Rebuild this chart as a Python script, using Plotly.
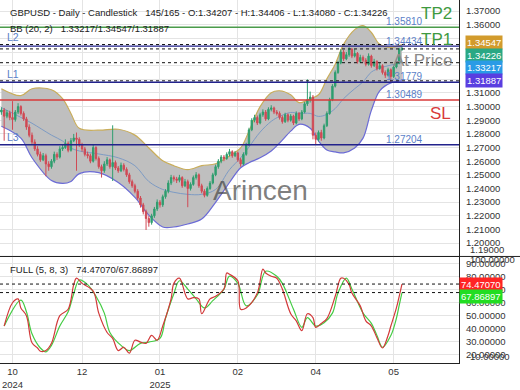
import plotly.graph_objects as go

# ---------------- data ----------------
opens = [1.2960,1.2975,1.2930,1.2955,1.2920,1.2905,1.2960,1.3000,1.2950,1.2910,
         1.2850,1.2790,1.2740,1.2690,1.2650,1.2610,1.2640,1.2580,1.2560,1.2600,
         1.2650,1.2630,1.2690,1.2700,1.2730,1.2680,1.2750,1.2770,1.2760,1.2720,
         1.2690,1.2650,1.2640,1.2600,1.2700,1.2620,1.2560,1.2530,1.2580,1.2610,
         1.2560,1.2590,1.2550,1.2530,1.2570,1.2540,1.2500,1.2450,1.2420,1.2380,
         1.2330,1.2280,1.2230,1.2180,1.2150,1.2200,1.2250,1.2300,1.2280,1.2340,
         1.2380,1.2440,1.2480,1.2470,1.2460,1.2480,1.2420,1.2450,1.2400,1.2430,
         1.2480,1.2500,1.2420,1.2380,1.2350,1.2400,1.2440,1.2500,1.2560,1.2600,
         1.2630,1.2620,1.2650,1.2670,1.2640,1.2660,1.2610,1.2580,1.2650,1.2720,
         1.2830,1.2900,1.2920,1.2880,1.2940,1.2960,1.2910,1.2980,1.2990,1.2960,
         1.2950,1.2920,1.2890,1.2940,1.2900,1.2930,1.2880,1.2950,1.2910,1.2960,
         1.3020,1.3050,1.3070,1.2790,1.2760,1.2810,1.2770,1.2860,1.2950,1.3050,
         1.3150,1.3250,1.3320,1.3400,1.3350,1.3380,1.3420,1.3370,1.3390,1.3330,
         1.3360,1.3340,1.3310,1.3370,1.3300,1.3330,1.3280,1.3300,1.3250,1.3230,
         1.3270,1.3220,1.3290,1.3320,1.34207]
highs = [1.2995,1.2990,1.2975,1.2970,1.3040,1.2975,1.3025,1.3010,1.2965,1.2925,
         1.2870,1.2810,1.2760,1.2710,1.2670,1.2660,1.2655,1.2600,1.2615,1.2670,
         1.2665,1.2710,1.2725,1.2760,1.2745,1.2770,1.2800,1.2810,1.2775,1.2735,
         1.2705,1.2670,1.2655,1.2720,1.2710,1.2635,1.2575,1.2600,1.2630,1.2620,
         1.2863,1.2605,1.2565,1.2590,1.2585,1.2555,1.2515,1.2465,1.2435,1.2395,
         1.2345,1.2295,1.2245,1.2200,1.2215,1.2265,1.2320,1.2315,1.2355,1.2395,
         1.2460,1.2500,1.2495,1.2485,1.2500,1.2490,1.2470,1.2465,1.2445,1.2495,
         1.2520,1.2510,1.2435,1.2395,1.2415,1.2455,1.2515,1.2575,1.2615,1.2645,
         1.2645,1.2665,1.2690,1.2680,1.2675,1.2670,1.2625,1.2665,1.2735,1.2845,
         1.2915,1.2940,1.2935,1.2955,1.2980,1.2975,1.2995,1.3010,1.3000,1.2975,
         1.2965,1.2935,1.2955,1.2950,1.2945,1.2940,1.2965,1.2960,1.2975,1.3035,
         1.3200,1.3110,1.3085,1.2810,1.2825,1.2830,1.2875,1.2965,1.3065,1.3165,
         1.3265,1.3335,1.3420,1.3415,1.3400,1.3435,1.3430,1.3420,1.3400,1.3380,
         1.3375,1.3355,1.3390,1.3380,1.3350,1.3340,1.3320,1.3310,1.3265,1.3285,
         1.3280,1.3300,1.3335,1.3430,1.34406]
lows = [1.2940,1.2750,1.2915,1.2900,1.2830,1.2890,1.2945,1.2935,1.2895,1.2830,
        1.2775,1.2725,1.2675,1.2635,1.2595,1.2600,1.2490,1.2530,1.2545,1.2585,
        1.2610,1.2620,1.2675,1.2690,1.2665,1.2670,1.2740,1.2530,1.2705,1.2670,
        1.2635,1.2620,1.2585,1.2590,1.2605,1.2545,1.2480,1.2515,1.2565,1.2545,
        1.2455,1.2535,1.2515,1.2520,1.2525,1.2485,1.2435,1.2405,1.2365,1.2315,
        1.2260,1.2210,1.2096,1.2120,1.2135,1.2185,1.2235,1.2260,1.2265,1.2325,
        1.2365,1.2425,1.2450,1.2440,1.2445,1.2405,1.2410,1.2263,1.2385,1.2420,
        1.2465,1.2405,1.2365,1.2335,1.2340,1.2390,1.2430,1.2490,1.2545,1.2585,
        1.2600,1.2610,1.2635,1.2625,1.2630,1.2595,1.2560,1.2570,1.2640,1.2710,
        1.2820,1.2885,1.2865,1.2870,1.2925,1.2895,1.2900,1.2965,1.2945,1.2935,
        1.2905,1.2875,1.2880,1.2885,1.2890,1.2865,1.2870,1.2895,1.2900,1.2950,
        1.3005,1.3030,1.2760,1.2720,1.2745,1.2750,1.2760,1.2850,1.2940,1.3040,
        1.3140,1.3240,1.3310,1.3335,1.3340,1.3365,1.3355,1.3360,1.3315,1.3320,
        1.3325,1.3295,1.3300,1.3285,1.3290,1.3265,1.3270,1.3235,1.3210,1.3220,
        1.3178,1.3210,1.3280,1.3310,1.34080]
closes = [1.2975,1.2930,1.2955,1.2920,1.2905,1.2960,1.3000,1.2950,1.2910,1.2850,
          1.2790,1.2740,1.2690,1.2650,1.2610,1.2640,1.2580,1.2560,1.2600,1.2650,
          1.2630,1.2690,1.2700,1.2730,1.2680,1.2750,1.2770,1.2760,1.2720,1.2690,
          1.2650,1.2640,1.2600,1.2700,1.2620,1.2560,1.2530,1.2580,1.2610,1.2560,
          1.2590,1.2550,1.2530,1.2570,1.2540,1.2500,1.2450,1.2420,1.2380,1.2330,
          1.2280,1.2230,1.2180,1.2150,1.2200,1.2250,1.2300,1.2280,1.2340,1.2380,
          1.2440,1.2480,1.2470,1.2460,1.2480,1.2420,1.2450,1.2400,1.2430,1.2480,
          1.2500,1.2420,1.2380,1.2350,1.2400,1.2440,1.2500,1.2560,1.2600,1.2630,
          1.2620,1.2650,1.2670,1.2640,1.2660,1.2610,1.2580,1.2650,1.2720,1.2830,
          1.2900,1.2920,1.2880,1.2940,1.2960,1.2910,1.2980,1.2990,1.2960,1.2950,
          1.2920,1.2890,1.2940,1.2900,1.2930,1.2880,1.2950,1.2910,1.2960,1.3020,
          1.3050,1.3070,1.2790,1.2760,1.2810,1.2770,1.2860,1.2950,1.3050,1.3150,
          1.3250,1.3320,1.3400,1.3350,1.3380,1.3420,1.3370,1.3390,1.3330,1.3360,
          1.3340,1.3310,1.3370,1.3300,1.3330,1.3280,1.3300,1.3250,1.3230,1.3270,
          1.3220,1.3290,1.3320,1.3420,1.34226]

bb_bars = [0, 7, 11, 18, 22, 25, 28, 35, 42, 48, 53, 58, 62, 67, 72, 77, 82, 86, 89, 93,
           97, 100, 104, 107, 111, 114, 117, 120, 123, 127, 130, 133, 136, 140, 144]
bb_upper = [1.3131, 1.3080, 1.3131, 1.3123, 1.3058, 1.2950, 1.2841, 1.2827, 1.2834, 1.2791,
            1.2697, 1.2603, 1.2567, 1.2538, 1.2567, 1.2581, 1.2639, 1.2697, 1.2820, 1.3000,
            1.3102, 1.3116, 1.3087, 1.3029, 1.3058, 1.3087, 1.3203, 1.3311, 1.3456, 1.3564,
            1.3593, 1.3543, 1.3456, 1.3434, 1.34547]
bb_lower = [1.2856, 1.2769, 1.2625, 1.2458, 1.2437, 1.2451, 1.2509, 1.2516, 1.2444, 1.2335,
            1.2205, 1.2118, 1.2118, 1.2140, 1.2176, 1.2299, 1.2444, 1.2552, 1.2589, 1.2625,
            1.2675, 1.2733, 1.2820, 1.2870, 1.2841, 1.2748, 1.2682, 1.2668, 1.2661, 1.2697,
            1.2769, 1.2972, 1.3116, 1.3174, 1.31887]
bb_mid = [1.2993, 1.2921, 1.2878, 1.2791, 1.2748, 1.2697, 1.2675, 1.2653, 1.2625, 1.2567,
          1.2451, 1.2393, 1.2372, 1.2357, 1.2357, 1.2393, 1.2538, 1.2625, 1.2704, 1.2813,
          1.2892, 1.2928, 1.2957, 1.2950, 1.2950, 1.2928, 1.2943, 1.2986, 1.3058, 1.3131,
          1.3181, 1.3253, 1.3282, 1.3304, 1.33217]

stoch_bars_k = [1,4,6,7,9,11,13,14,16,18,21,24,26,27,29,33,35,38,40,42,
                44,46,48,50,52,54,56,58,61,62,64,67,69,71,72,75,77,80,81,82,
                85,86,88,92,94,95,97,99,101,104,106,108,110,112,113,115,117,120,122,123,
                125,126,129,131,133,135,137,139,140,142,143,144]
stoch_k = [42,60,63,56,50,29,25,22.5,23,28.6,50,55,74,79,75,69,52,37,32.4,23,
           25.6,21,31,29.6,28.6,34.7,31,42,63,75,79,63,64,63,51.5,63,65,70.6,83,82,
           77,55,56,67.5,86,83,80.5,79,70.6,51.5,46,38.5,51.5,48.5,41,44,47.7,65,79,79,
           74,67.5,57.6,46,42,33,25,34.7,42,56,65,74.4707]
stoch_bars_d = [1,7,9,11,14,16,18,21,24,26,28,31,34,37,39,43,46,50,53,57,
                59,62,64,67,70,73,76,80,82,85,88,92,95,99,101,105,108,110,113,116,
                119,121,124,126,130,133,135,137,140,142,143,144]
stoch_d = [42,62,53,36,25,22,27,42,53,67,77.6,74,65,52,37,27,23,28.6,29.6,32.4,
           48,67,77,70.6,63,56,61.6,70.6,80.6,75,57.6,66,84.4,80.5,75,55,41,48.5,42,44.6,
           52,67.5,79,70.6,52,44,34.7,25.6,34.7,48,58,67.86897]

x_tick_bars = [4, 29, 57, 85, 113, 141]
x_tick_text = ["10<br>2024", "12", "01<br>2025", "02", "04", "05"]
main_ticks = [1.19, 1.20, 1.21, 1.22, 1.23, 1.24, 1.25, 1.26, 1.27, 1.28, 1.29, 1.30,
              1.31, 1.32, 1.33, 1.34, 1.35, 1.36, 1.37]
stoch_ticks = [20, 30, 40, 50, 60, 70, 80, 90]
edge_labels = ["1.19000", "100.00000", "10.00000"]

level_values = [1.35810, 1.34434, 1.31779, 1.30489, 1.27204]
level_colors = ["#4b9b4b", "#22228c", "#22228c", "#d83a3a", "#22228c"]
dash_values = [1.34547, 1.34226, 1.33217, 1.31887]
tag_values = [1.34547, 1.34226, 1.33217, 1.31887]
tag_colors = ["#d29b2c", "#29a884", "#2a9be6", "#5a3ee0"]
stoch_last = [74.47070, 67.86897]
stoch_tag_colors = ["#ff2424", "#22dd22"]

n_slots = 165
bars = list(range(len(closes)))
main_range = [1.1902, 1.3781]

FONT = "Liberation Sans, Arial, sans-serif"
PW, PH = 459.0, 368.0          # plot area in px
split = 108.0 / PH

def px(x):
    return x / PW

def py(y):
    return 1 - y / PH

fig = go.Figure()
fig.add_trace(go.Scatter(x=bb_bars, y=bb_lower, mode="lines", hoverinfo="skip",
                         line=dict(color="#6b6bd6", width=1.2, shape="spline")))
fig.add_trace(go.Scatter(x=bb_bars, y=bb_upper, mode="lines", hoverinfo="skip",
                         fill="tonexty", fillcolor="#bfbfbf",
                         line=dict(color="#c9ad5a", width=1.2, shape="spline")))
fig.add_trace(go.Scatter(x=bb_bars, y=bb_mid, mode="lines", hoverinfo="skip",
                         line=dict(color="#7d9bc4", width=1, shape="spline")))
fig.add_trace(go.Candlestick(x=bars, open=opens, high=highs, low=lows, close=closes,
                             xaxis="x", yaxis="y3", whiskerwidth=0,
                             increasing=dict(line=dict(color="#2f9e6f", width=1), fillcolor="#2f9e6f"),
                             decreasing=dict(line=dict(color="#d04a55", width=1), fillcolor="#d04a55")))
fig.add_trace(go.Scatter(x=stoch_bars_d, y=stoch_d, mode="lines", xaxis="x2", yaxis="y2",
                         line=dict(color="#44cc44", width=1.2, shape="spline")))
fig.add_trace(go.Scatter(x=stoch_bars_k, y=stoch_k, mode="lines", xaxis="x2", yaxis="y2",
                         line=dict(color="#d23a3a", width=1.2, shape="spline")))

shapes = []
for v in dash_values:
    shapes.append(dict(type="line", xref="paper", yref="y", x0=0, x1=1, y0=v, y1=v,
                       line=dict(color="#111", width=1, dash="dot")))
for v in stoch_last:
    shapes.append(dict(type="line", xref="paper", yref="y2", x0=0, x1=1, y0=v, y1=v,
                       line=dict(color="#111", width=1, dash="dot")))
for v, c in zip(level_values, level_colors):
    shapes.append(dict(type="line", xref="paper", yref="y", x0=0, x1=1, y0=v, y1=v,
                       line=dict(color=c, width=1.4)))
shapes.append(dict(type="line", xref="paper", yref="paper", x0=0, x1=1.14, y0=split, y1=split,
                   line=dict(color="#222", width=1)))

ann = []
def text(t, x, y, size, color, xanchor="left", yref="paper", yshift=0, **kw):
    ann.append(dict(text=t, x=x, y=y, xref="paper", yref=yref, xanchor=xanchor,
                    yanchor="middle", yshift=yshift, showarrow=False,
                    font=dict(family=FONT, size=size, color=color), **kw))

text("GBPUSD - Daily - Candlestick &nbsp;&nbsp;145/165 - O:1.34207 - H:1.34406 - L:1.34080 - C:1.34226",
     px(8), py(13), 9.5, "#222")
text("BB (20, 2) &nbsp;&nbsp;1.33217/1.34547/1.31887", px(8), py(29), 9.5, "#222")
text("FULL (5, 8, 3) &nbsp;&nbsp;74.47070/67.86897", px(8), py(273), 9.5, "#222")

# clipped edge labels of the value axes
for t, yy in zip(edge_labels, [253, 263, 361]):
    text(t, px(468), py(yy), 9.5, "#333")

# right-side level labels
text("TP2", px(454), level_values[0], 17, "#3f9a3f", xanchor="right", yref="y", yshift=14)
text("TP1", px(454), level_values[1], 17, "#3f9a3f", xanchor="right", yref="y", yshift=7)
text("At Price", px(455), dash_values[2], 17, "#8a8a8a", xanchor="right", yref="y", yshift=2)
text("SL", px(453), level_values[3], 17, "#d83a3a", xanchor="right", yref="y", yshift=-14)
for v, s in zip(level_values, [6, 5, 6, 5, 5]):
    text(f"{v:.5f}", px(384), v, 10, "#5b7fc8", yref="y", yshift=s)
for name, v, s in [("L2", level_values[1], 9), ("L1", level_values[2], 8), ("L3", level_values[4], 8)]:
    text(name, px(5), v, 10.5, "#5b7fc8", yref="y", yshift=s)

# watermark
text("Arincen", px(260), py(193), 28, "rgba(70,70,70,0.7)", xanchor="center")

# price tags
for v, c, s in zip(tag_values, tag_colors, [2, -7, -5, 0]):
    ann.append(dict(text=f"{v:.5f}", x=px(503), y=v, xref="paper", yref="y", xanchor="right",
                    yanchor="middle", yshift=s, showarrow=False, bgcolor=c, borderpad=1,
                    font=dict(family=FONT, size=9.5, color="white")))
for v, c, s in zip(stoch_last, stoch_tag_colors, [0, -4]):
    ann.append(dict(text=f"{v:.5f}", x=px(503), y=v, xref="paper", yref="y2", xanchor="right",
                    yanchor="middle", yshift=s, showarrow=False, bgcolor=c, borderpad=1,
                    font=dict(family=FONT, size=9.5, color="white")))

grid = "#e4e4e4"
fig.update_layout(
    width=520, height=390, margin=dict(l=0, r=61, t=0, b=22),
    paper_bgcolor="white", plot_bgcolor="white", showlegend=False,
    font=dict(family=FONT, size=9.5, color="#333"),
    shapes=shapes, annotations=ann,
    xaxis=dict(domain=[0, 1], anchor="y", range=[-0.5, n_slots - 0.5],
               tickvals=x_tick_bars, showticklabels=False, ticks="",
               showgrid=True, gridcolor=grid, zeroline=False,
               showline=True, linecolor="#222", linewidth=1,
               rangeslider=dict(visible=False)),
    yaxis=dict(domain=[split, 1], anchor="x", side="right", range=main_range,
               tickvals=main_ticks, tickformat=".5f", ticks="", ticklabelstandoff=4,
               showgrid=True, gridcolor=grid, zeroline=False,
               showline=True, linecolor="#222", linewidth=1),
    yaxis3=dict(overlaying="y", anchor="x", side="right", range=main_range,
                visible=False, showgrid=False, zeroline=False),
    xaxis2=dict(domain=[0, 1], anchor="y2", matches="x", range=[-0.5, n_slots - 0.5],
                tickvals=x_tick_bars, ticktext=x_tick_text, ticks="",
                showgrid=True, gridcolor=grid, zeroline=False,
                showline=True, linecolor="#222", linewidth=1,
                tickfont=dict(size=9.5, color="#333")),
    yaxis2=dict(domain=[0, split], anchor="x2", side="right", range=[13.4, 95.8],
                tickvals=stoch_ticks, tickformat=".5f", ticks="", ticklabelstandoff=4,
                showgrid=True, gridcolor=grid, zeroline=False,
                showline=True, linecolor="#222", linewidth=1),
)

fig.write_html("out.html", config={"displayModeBar": False},
               post_script="document.body.style.margin='0px';")
